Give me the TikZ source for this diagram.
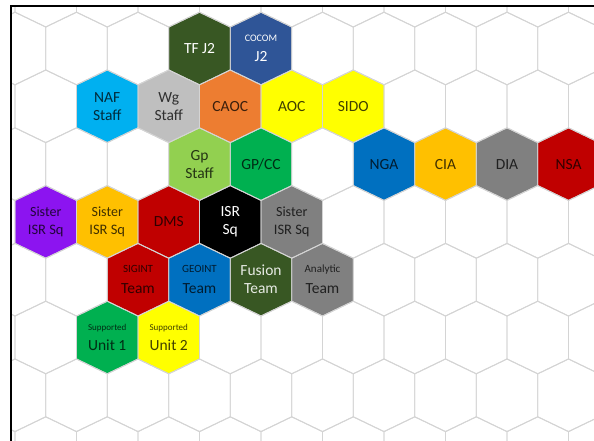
\documentclass[tikz,border=0pt]{standalone}
\usepackage{fontspec}
\setmainfont{Carlito}
\definecolor{dkgreen}{RGB}{56,87,35}
\definecolor{cocomblue}{RGB}{47,85,151}
\definecolor{nafblue}{RGB}{0,176,240}
\definecolor{wggray}{RGB}{191,191,191}
\definecolor{caocorange}{RGB}{237,125,49}
\definecolor{yell}{RGB}{255,255,0}
\definecolor{ltgreen}{RGB}{146,208,80}
\definecolor{midgreen}{RGB}{0,176,80}
\definecolor{ngablue}{RGB}{0,112,192}
\definecolor{gold}{RGB}{255,192,0}
\definecolor{midgray}{RGB}{128,128,128}
\definecolor{dkred}{RGB}{192,0,0}
\definecolor{violet}{RGB}{140,20,240}
\definecolor{gridgray}{RGB}{212,212,212}
\newcommand\bigsz{\fontsize{15.5}{18}\selectfont}
\newcommand\hexshape[3]{%
  \fill[#3, shift={(#1,#2)}] (0,-36.3) -- (30.75,-21.5) -- (30.75,21.5) -- (0,36.3) -- (-30.75,21.5) -- (-30.75,-21.5) -- cycle;
}
\newcommand\hexcell[5]{%
  \hexshape{#2}{#3}{#4}
  \node[hexlabel, text=#4!25!black] (#1) at (#2,#3) {#5};
}
\newcommand\hexcellw[5]{%
  \hexshape{#2}{#3}{#4}
  \node[hexlabel, text=white] (#1) at (#2,#3) {#5};
}
\tikzset{
  gridline/.style={draw=gridgray, line width=0.9pt, line join=miter},
  hexlabel/.style={align=center, font=\bigsz, inner sep=0pt},
  framerule/.style={draw=black, line width=1.6pt},
}
\begin{document}
\begin{tikzpicture}[x=1pt, y=-1pt]
\useasboundingbox (0,0) rectangle (594,441);
\fill[white] (0,0) rectangle (594,441);
% row 0 (y=48.5)
\hexcellw{tfj}{199.5}{48.5}{dkgreen}{TF J2}
\hexcellw{cocom}{261}{48.5}{cocomblue}{{\fontsize{10}{11}\selectfont COCOM}\\[2pt]J2}
% row 1 (y=106.3)
\hexcell{naf}{107.25}{106.3}{nafblue}{NAF\\Staff}
\hexcell{wg}{168.75}{106.3}{wggray}{Wg\\Staff}
\hexcell{caoc}{230.25}{106.3}{caocorange}{CAOC}
\hexcell{aoc}{291.75}{106.3}{yell}{AOC}
\hexcell{sido}{353.25}{106.3}{yell}{SIDO}
% row 2 (y=164.1)
\hexcell{gp}{199.5}{164.1}{ltgreen}{Gp\\Staff}
\hexcell{gpcc}{261}{164.1}{midgreen}{GP/CC}
\hexcell{nga}{384}{164.1}{ngablue}{NGA}
\hexcell{cia}{445.5}{164.1}{gold}{CIA}
\hexcell{dia}{507}{164.1}{midgray}{DIA}
\hexcell{nsa}{568.5}{164.1}{dkred}{NSA}
% row 3 (y=221.9)
\hexcell{sis1}{45.75}{221.9}{violet}{{\fontsize{14}{18}\selectfont Sister}\\{\fontsize{14.5}{18}\selectfont ISR Sq}}
\hexcell{sis2}{107.25}{221.9}{gold}{{\fontsize{14}{18}\selectfont Sister}\\{\fontsize{14.5}{18}\selectfont ISR Sq}}
\hexcell{dms}{168.75}{221.9}{dkred}{DMS}
\hexcellw{isr}{230.25}{221.9}{black}{ISR\\Sq}
\hexcell{sis3}{291.75}{221.9}{midgray}{{\fontsize{14}{18}\selectfont Sister}\\{\fontsize{14.5}{18}\selectfont ISR Sq}}
% row 4 (y=279.7)
\hexcell{sigint}{138}{279.7}{dkred}{{\fontsize{11}{12}\selectfont SIGINT}\\[3pt]Team}
\hexcell{geoint}{199.5}{279.7}{ngablue}{{\fontsize{11}{12}\selectfont GEOINT}\\[3pt]Team}
\hexshape{261}{279.7}{dkgreen}
\node[hexlabel, text=white!88!dkgreen] (fusion) at (261,279.7) {Fusion\\Team};
\hexcell{analytic}{322.5}{279.7}{midgray}{{\fontsize{11}{12}\selectfont Analytic}\\[3pt]Team}
% row 5 (y=337.5)
\hexcell{sup1}{107.25}{337.5}{midgreen}{{\fontsize{9}{10}\selectfont Supported}\\[2pt]Unit 1}
\hexcell{sup2}{168.75}{337.5}{yell}{{\fontsize{9}{10}\selectfont Supported}\\[2pt]Unit 2}
% grid
\begin{scope}
\clip (11,6) rectangle (594,441);
\foreach \r in {-1,...,8} {
  \foreach \c in {-1,...,10} {
    \pgfmathsetmacro{\hx}{15+61.5*\c-30.75*mod(\r+2,2)}
    \pgfmathsetmacro{\hy}{48.5+57.8*\r}
    \draw[gridline, shift={(\hx,\hy)}] (0,-36.3) -- (30.75,-21.5) -- (30.75,21.5) -- (0,36.3) -- (-30.75,21.5) -- (-30.75,-21.5) -- cycle;
  }
}
\end{scope}
\coordinate (fbl) at (11,441);
\coordinate (ftl) at (11,6);
\coordinate (ftr) at (594,6);
\draw[framerule] (fbl) -- (ftl) -- (ftr);
\end{tikzpicture}
\end{document}
